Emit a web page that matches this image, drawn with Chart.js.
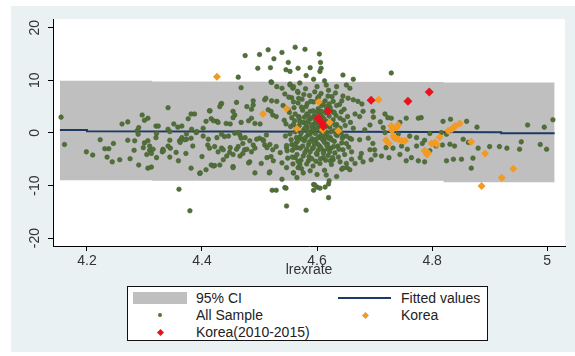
<!DOCTYPE html>
<html>
<head>
<meta charset="utf-8">
<script src="https://cdn.jsdelivr.net/npm/chart.js@4.4.1/dist/chart.umd.min.js"></script>
<style>
  body { margin: 0; background: #fff; }
  #wrap { position: relative; width: 575px; height: 356px; }
  #legend {
    position: absolute; left: 127px; top: 286px; width: 361px; height: 55px;
    background: #fff; border: 1px solid #111; box-sizing: border-box;
    font-family: "Liberation Sans", Arial, sans-serif; font-size: 14px; color: #222;
  }
  .item { position: absolute; white-space: nowrap; line-height: 16px; }
  .sw { position: absolute; }
</style>
</head>
<body>
<div id="wrap">
  <canvas id="chart" width="575" height="356"></canvas>
  <div id="legend"></div>
</div>
<script>
// tick labels
const xTicks = [4.2, 4.4, 4.6, 4.8, 5];
const yTicks = [-20, -10, 0, 10, 20];

// 95% CI band and fitted line (x, lower, upper / fitted)
const ciX     = [4.153, 4.313, 4.313, 4.82, 4.82, 5.013];
const ciLower = [-9.0, -9.0, -9.1, -9.1, -9.4, -9.4];
const ciUpper = [9.9, 9.9, 9.8, 9.7, 9.6, 9.6];
const fitX    = [4.153, 4.2, 4.2, 4.66, 4.92, 4.92, 5.013];
const fitY    = [0.55, 0.55, 0.3, 0.2, 0.15, -0.05, -0.05];

// All Sample (lrexrate, residual)
const allSample = [
  [4.155,3.0],[4.161,-2.2],[4.199,-3.6],[4.21,-4.2],[4.223,-1.3],[4.231,-3.0],[4.238,-3.0],[4.246,-2.0],
  [4.235,-4.6],[4.244,-5.5],[4.257,-5.1],[4.261,1.7],[4.271,2.1],[4.271,-1.4],[4.275,-4.9],[4.282,-3.3],
  [4.287,0.4],[4.29,1.0],[4.289,-0.25],[4.29,-6.1],[4.296,3.4],[4.3,2.4],[4.306,2.8],[4.3,-1.9],
  [4.306,-1.5],[4.309,-3.3],[4.315,-3.1],[4.309,-2.5],[4.306,-6.7],[4.312,-6.5],[4.32,-0.9],[4.32,1.3],
  [4.331,-3.6],[4.332,-3.1],[4.341,4.8],[4.341,0.7],[4.344,-1.4],[4.345,-2.9],[4.344,-4.6],[4.351,1.7],
  [4.355,-3.7],[4.358,1.1],[4.361,-1.5],[4.364,-1.2],[4.36,-10.7],[4.283,-1.5],[4.298,-2.8],[4.304,-4.1],
  [4.312,-3.9],[4.321,-4.7],[4.333,-3.4],[4.341,-2.5],[4.362,-1.8],[4.359,-5.3],[4.321,-0.1],[4.344,0.25],
  [4.324,1.3],[4.365,1.3],[4.365,-0.9],[4.373,-1.2],
  [4.475,14.7],[4.5,14.9],[4.515,15.8],[4.525,14.1],[4.497,12.3],[4.519,12.4],[4.463,10.6],[4.468,8.6],
  [4.52,9.7],[4.433,5.5],[4.46,5.8],[4.489,5.3],[4.376,2.7],[4.381,3.6],[4.387,3.6],[4.413,4.2],
  [4.416,2.7],[4.402,0.9],[4.407,2.2],[4.426,2.2],[4.442,1.8],[4.454,4.1],[4.457,3.4],[4.468,2.0],
  [4.486,2.8],[4.492,1.8],[4.509,6.3],[4.515,4.4],[4.52,4.1],[4.523,3.4],[4.529,3.1],[4.373,-0.2],
  [4.381,-1.0],[4.39,0.06],[4.37,-1.3],[4.384,-2.5],[4.372,-3.9],[4.381,-6.7],[4.396,-7.7],[4.4,-4.5],
  [4.407,-7.0],[4.41,-2.3],[4.413,-2.9],[4.422,-2.6],[4.416,-6.1],[4.422,-6.2],[4.428,-3.6],[4.434,-2.9],
  [4.437,-3.2],[4.437,-5.1],[4.439,-0.7],[4.448,-3.7],[4.454,-6.4],[4.457,-0.07],[4.466,-0.4],[4.468,-1.0],
  [4.471,-2.0],[4.463,-2.6],[4.474,-3.2],[4.471,-3.9],[4.483,-5.5],[4.489,-2.3],[4.492,-2.9],[4.486,-3.6],
  [4.492,-7.6],[4.503,-5.8],[4.5,-1.0],[4.506,-1.3],[4.509,-2.3],[4.512,-0.4],[4.518,-7.4],[4.523,-3.2],
  [4.52,-4.5],[4.529,-2.6],[4.522,-10.9],[4.529,-10.9],[4.379,-14.8],
  [4.382,0.7],[4.391,0.25],[4.42,2.3],[4.428,2.0],[4.449,1.7],[4.454,2.9],[4.481,2.3],[4.501,1.7],
  [4.402,-0.6],[4.411,-1.2],[4.426,-0.9],[4.434,-0.25],[4.446,-0.6],[4.463,0.06],[4.475,-0.9],[4.483,-1.5],
  [4.495,-1.2],[4.42,-6.3],[4.431,-6.1],[4.443,-4.4],[4.454,-4.1],[4.466,-4.4],[4.449,-2.8],[4.46,-3.1],
  [4.478,-3.1],[4.454,-6.6],[4.481,-5.7],[4.507,-1.5],[4.513,-2.8],[4.518,-2.2],[4.513,-4.7],[4.524,-5.3],
  [4.536,-3.75],[4.397,-7.6],[4.434,5.6],[4.414,4.2],[4.431,5.0],[4.478,5.0],[4.486,4.5],[4.489,6.1],
  [4.511,6.6],[4.521,6.1],[4.53,6.0],[4.521,9.6],[4.53,8.8],[4.539,8.5],
  [4.539,15.3],[4.562,16.3],[4.579,15.9],[4.604,15.0],[4.55,13.4],[4.567,12.3],[4.546,12.0],[4.553,11.7],
  [4.588,12.4],[4.606,13.4],[4.607,12.3],[4.605,11.7],[4.581,10.9],[4.645,11.0],[4.663,10.2],[4.594,10.2],
  [4.613,9.9],[4.616,9.1],[4.553,9.1],[4.558,8.5],[4.57,9.5],[4.634,8.8],[4.651,9.1],[4.657,8.5],
  [4.544,7.4],[4.556,6.7],[4.567,7.7],[4.553,9.3],[4.559,8.8],[4.729,11.4],
  [4.544,-10.4],[4.546,-10.5],[4.594,-10.9],[4.594,-9.8],[4.6,-10.3],[4.605,-10.5],[4.614,-10.3],[4.62,-9.7],
  [4.621,-9.1],[4.62,-12.3],[4.547,-13.9],[4.581,-14.7],[4.539,-8.8],[4.559,-7.6],[4.565,-8.5],[4.517,-7.6],
  [4.596,-9.9],[4.616,-8.0],[4.634,-8.3],[4.539,-5.7],[4.547,-6.6],[4.559,-7.6],[4.567,-6.6],[4.562,-4.7],
  [4.547,-2.8],[4.556,-2.2],[4.565,-2.8],[4.582,-3.1],[4.6,-4.1],[4.57,-6.0],[4.585,-5.3],[4.611,-4.7],
  [4.623,-5.3],[4.576,-7.6],[4.588,-7.2],[4.6,-7.9],[4.643,-6.9],[4.652,-6.6],[4.66,-5.0],[4.675,-4.7],
  [4.645,7.0],[4.663,6.3],[4.671,6.0],[4.68,4.1],[4.666,3.6],[4.697,4.1],[4.674,3.1],[4.692,1.5],
  [4.663,0.9],[4.683,0.6],[4.645,-0.7],[4.657,-1.0],[4.651,-2.0],[4.674,-1.3],[4.689,-1.0],[4.697,-2.0],
  [4.66,-3.6],[4.677,-3.9],[4.692,-3.2],[4.7,-3.2],[4.628,-5.1],[4.64,-5.5],[4.651,-5.8],[4.666,-5.8],
  [4.68,-5.5],[4.694,-5.1],[4.645,-6.7],[4.657,-7.0],[4.643,6.1],[4.654,6.6],[4.698,3.0],[4.678,5.5],
  [4.718,3.6],[4.723,2.9],[4.729,2.8],[4.755,2.8],[4.776,2.8],[4.781,2.9],[4.744,2.0],[4.819,2.2],
  [4.86,2.2],[4.832,2.6],[4.878,1.1],[4.715,1.0],[4.718,0.06],[4.732,0.5],[4.741,-0.25],[4.761,-0.6],
  [4.773,-0.9],[4.787,-1.4],[4.796,-0.1],[4.816,0.06],[4.825,-0.25],[4.72,-2.8],[4.732,-2.9],[4.747,-2.5],
  [4.757,-3.1],[4.773,-2.5],[4.783,-2.0],[4.807,-2.5],[4.818,-2.3],[4.831,-2.15],[4.839,-2.5],[4.854,-1.2],
  [4.863,-1.8],[4.871,-4.8],[4.88,-2.9],[4.744,-4.1],[4.755,-5.3],[4.764,-4.7],[4.776,-5.3],[4.796,-3.4],
  [4.825,-5.3],[4.851,-5.0],[4.868,-6.7],[4.725,-4.7],[4.712,-4.4],[4.701,-4.2],[4.787,-5.5],[4.837,-5.0],
  [4.71,2.1],
  [4.9,-2.6],[4.917,-2.6],[4.93,-2.9],[4.952,-3.1],[4.955,-1.7],[4.966,1.5],[4.988,-2.2],[4.999,-3.1],
  [4.995,1.1],[5.01,2.5],
  [4.541,5.2],[4.543,2.4],[4.545,-0.6],[4.547,-2.4],[4.549,-4.8],[4.551,6.8],[4.552,3.9],[4.554,1.2],
  [4.555,-1.3],[4.557,-3.3],[4.558,-5.9],[4.560,4.8],[4.561,2.3],[4.562,0.2],[4.563,-2.0],[4.565,-4.1],
  [4.566,7.9],[4.567,5.7],[4.568,3.1],[4.569,1.4],[4.570,-0.8],[4.571,-2.9],[4.572,-5.2],[4.573,-6.8],
  [4.574,6.4],[4.575,4.3],[4.576,2.0],[4.577,0.6],[4.578,-1.5],[4.579,-3.7],[4.580,8.4],[4.581,5.0],
  [4.582,3.6],[4.583,1.0],[4.584,-0.4],[4.585,-2.3],[4.586,-4.5],[4.587,7.1],[4.588,4.1],[4.589,2.7],
  [4.590,0.3],[4.591,-1.1],[4.592,-3.0],[4.593,-6.3],[4.594,5.9],[4.595,3.3],[4.596,1.8],[4.597,-0.1],
  [4.598,-1.9],[4.599,-3.9],[4.600,8.8],[4.601,6.6],[4.602,4.6],[4.603,1.5],[4.604,-0.7],[4.605,-2.6],
  [4.606,-4.9],[4.607,7.5],[4.608,5.2],[4.609,3.0],[4.610,0.8],[4.611,-1.4],[4.612,-3.4],[4.613,-7.1],
  [4.614,6.1],[4.615,3.8],[4.616,2.2],[4.617,-0.3],[4.618,-2.1],[4.619,-4.3],[4.620,8.1],[4.621,5.5],
  [4.622,1.1],[4.623,-0.9],[4.624,-2.9],[4.625,-6.0],[4.626,6.9],[4.627,4.0],[4.628,2.5],[4.629,0.4],
  [4.630,-1.6],[4.631,-3.8],[4.632,7.6],[4.633,3.3],[4.634,1.6],[4.635,-0.5],[4.636,-2.5],[4.637,-4.6],
  [4.639,5.4],[4.640,2.8],[4.642,0.0],[4.643,-1.9],[4.645,-3.2],[4.647,4.5],[4.649,1.4],[4.651,-0.6],
  [4.653,3.1],[4.655,-2.7],[4.658,2.0],[4.660,-1.2],
  [4.588,-0.2],[4.592,1.1],[4.596,-1.3],[4.598,2.4],[4.602,-2.2],[4.604,0.9],[4.606,3.5],[4.608,-0.5],
  [4.611,1.9],[4.613,-1.8],[4.615,0.2],[4.617,4.4],[4.619,-3.0],[4.594,-2.7],[4.584,2.2],[4.579,0.9],
  [4.574,-1.2],[4.569,2.9],[4.564,-0.9],[4.559,1.6],
  [4.546,1.7],[4.548,-3.4],[4.550,4.4],[4.553,-0.2],[4.556,2.9],[4.557,-4.6],[4.559,5.9],[4.561,-2.8],
  [4.562,3.6],[4.564,1.0],[4.566,-1.6],[4.567,-5.4],[4.568,6.6],[4.570,2.2],[4.572,-0.1],[4.573,4.9],
  [4.575,-2.5],[4.576,-4.4],[4.577,7.3],[4.578,3.0],[4.580,-0.9],[4.581,1.7],[4.582,-5.9],[4.583,5.6],
  [4.585,0.1],[4.586,3.1],[4.587,-1.7],[4.588,-3.6],[4.589,6.0],[4.590,1.6],[4.591,-4.9],[4.593,4.2],
  [4.594,0.6],[4.595,-1.9],[4.596,7.8],[4.597,2.9],[4.598,-5.4],[4.599,0.9],[4.600,4.0],[4.601,-1.0],
  [4.602,-3.3],[4.603,6.9],[4.604,2.3],[4.605,-5.8],[4.606,0.3],[4.607,-2.9],[4.608,4.1],[4.609,-1.1],
  [4.610,5.6],[4.611,-3.8],[4.612,2.7],[4.613,0.6],[4.614,-0.8],[4.615,-5.2],[4.616,5.0],[4.617,-2.4],
  [4.618,1.4],[4.619,7.0],[4.620,-1.0],[4.621,3.2],[4.622,-3.6],[4.623,4.8],[4.624,0.2],[4.625,-1.3],
  [4.626,2.0],[4.627,-4.7],[4.628,6.0],[4.629,-2.6],[4.630,3.9],[4.631,1.5],[4.633,-0.3],[4.634,5.2],
  [4.636,1.0],[4.638,-3.1],[4.640,0.9],[4.642,4.0],[4.644,-1.0],[4.646,2.4],[4.648,-4.1]
];

// Korea, all years
const korea = [
  [4.426,10.7],[4.506,3.6],[4.547,4.6],[4.603,5.9],[4.565,0.8],[4.622,2.0],[4.637,0.4],[4.61,0.6],
  [4.707,6.3],[4.729,1.3],[4.738,1.0],[4.741,1.5],[4.73,0.5],[4.72,-1.4],[4.725,-2.0],[4.735,-1.0],
  [4.741,-1.2],[4.747,-1.5],[4.733,-0.6],[4.753,-1.5],[4.787,-3.4],[4.793,-3.75],[4.791,-4.1],[4.799,-2.0],
  [4.805,-1.8],[4.808,-2.15],[4.813,-0.8],[4.828,0.4],[4.834,0.7],[4.837,1.0],[4.84,1.3],[4.848,1.8],
  [4.868,-1.7],[4.892,-3.9],[4.941,-6.8],[4.921,-8.5],[4.886,-10.1]
];

// Korea 2010-2015
const korea1015 = [
  [4.602,2.8],[4.608,2.0],[4.611,1.2],[4.619,4.1],[4.694,6.2],[4.758,6.0],[4.795,7.8]
];

const toXY = arr => arr.map(p => ({x: p[0], y: p[1]}));
const pairs = (xs, ys) => xs.map((x, i) => ({x: x, y: ys[i]}));

const FONT = "'Liberation Sans', Arial, sans-serif";

const bgPlugin = {
  id: 'bg',
  beforeDraw(chart) {
    const c = chart.ctx, a = chart.chartArea;
    c.save();
    c.fillStyle = '#ffffff';
    c.fillRect(0, 0, chart.width, chart.height);
    c.fillStyle = '#e9f1f3';
    c.fillRect(11, 6, chart.width - 11, chart.height - 10);
    c.fillStyle = '#ffffff';
    c.fillRect(a.left, a.top, a.right - a.left, a.bottom - a.top);
    c.restore();
  }
};

new Chart(document.getElementById('chart'), {
  type: 'scatter',
  data: {
    datasets: [
      { label: 'Korea(2010-2015)', data: toXY(korea1015), order: 1,
        pointStyle: 'rectRot', pointRadius: 4.5, backgroundColor: '#e8111d', borderColor: '#e8111d', borderWidth: 0 },
      { label: 'Korea', data: toXY(korea), order: 2,
        pointStyle: 'rectRot', pointRadius: 4, backgroundColor: '#f39a22', borderColor: '#f39a22', borderWidth: 0 },
      { label: 'All Sample', data: toXY(allSample), order: 3,
        pointStyle: 'circle', pointRadius: 2.3, backgroundColor: '#4f7232', borderColor: '#4a5d40', borderWidth: 0.6 },
      { label: 'Fitted values', data: pairs(fitX, fitY), order: 4, type: 'line', showLine: true,
        borderColor: '#1d3a64', borderWidth: 2, pointRadius: 0, fill: false, tension: 0 },
      { label: 'ci low', data: pairs(ciX, ciLower), order: 5, type: 'line', showLine: true,
        borderWidth: 0, borderColor: 'rgba(0,0,0,0)', pointRadius: 0, fill: false },
      { label: '95% CI', data: pairs(ciX, ciUpper), order: 5, type: 'line', showLine: true,
        borderWidth: 0, borderColor: 'rgba(0,0,0,0)', pointRadius: 0,
        fill: { target: 4 }, backgroundColor: '#bfbfbf' }
    ]
  },
  options: {
    responsive: false,
    devicePixelRatio: 1,
    animation: false,
    layout: { padding: { left: 0, right: 10, top: 19, bottom: 77 } },
    plugins: { legend: { display: false }, tooltip: { enabled: false } },
    scales: {
      x: {
        type: 'linear', min: 4.141, max: 5.031,
        afterBuildTicks: s => { s.ticks = xTicks.map(v => ({value: v})); },
        afterFit: s => { s.height = 33; },
        grid: { drawOnChartArea: false, drawTicks: true, tickLength: 5, tickColor: '#000' },
        border: { display: true, color: '#000', width: 1 },
        ticks: { font: { family: FONT, size: 14 }, color: '#333', padding: 2, maxRotation: 0,
                 callback: v => String(v) },
        title: { display: true, text: 'lrexrate', font: { family: FONT, size: 14 }, color: '#333',
                 padding: { top: 0, bottom: 0 } }
      },
      y: {
        type: 'linear', min: -21.5, max: 21.66,
        afterBuildTicks: s => { s.ticks = yTicks.map(v => ({value: v})); },
        afterFit: s => { s.width = 53; },
        grid: { drawOnChartArea: false, drawTicks: true, tickLength: 5, tickColor: '#000' },
        border: { display: true, color: '#000', width: 1 },
        ticks: { font: { family: FONT, size: 14 }, color: '#333', padding: 3,
                 minRotation: 90, maxRotation: 90, crossAlign: 'center',
                 callback: v => String(v) }
      }
    }
  },
  plugins: [bgPlugin]
});

// legend (Stata style, two columns)
const legend = document.getElementById('legend');
const legendItems = [
  { text: '95% CI',           col: 0, row: 0, kind: 'band' },
  { text: 'Fitted values',    col: 1, row: 0, kind: 'line' },
  { text: 'All Sample',       col: 0, row: 1, kind: 'dot' },
  { text: 'Korea',            col: 1, row: 1, kind: 'diamond', color: '#f39a22' },
  { text: 'Korea(2010-2015)', col: 0, row: 2, kind: 'diamond', color: '#e8111d' }
];
legendItems.forEach(it => {
  const sx = it.col ? 210 : 5;
  const cy = 11 + it.row * 17;
  const sw = document.createElement('div');
  sw.className = 'sw';
  if (it.kind === 'band') {
    Object.assign(sw.style, { left: sx + 'px', top: (cy - 6) + 'px', width: '54px', height: '12px', background: '#bfbfbf' });
  } else if (it.kind === 'line') {
    Object.assign(sw.style, { left: sx + 'px', top: (cy - 1) + 'px', width: '53px', height: '2px', background: '#1d3a64' });
  } else if (it.kind === 'dot') {
    Object.assign(sw.style, { left: (sx + 25) + 'px', top: (cy - 2) + 'px', width: '4px', height: '4px',
      borderRadius: '50%', background: '#4f7232' });
  } else {
    Object.assign(sw.style, { left: (sx + 25) + 'px', top: (cy - 2.5) + 'px', width: '5px', height: '5px',
      transform: 'rotate(45deg)', background: it.color });
  }
  legend.appendChild(sw);
  const t = document.createElement('div');
  t.className = 'item';
  t.textContent = it.text;
  t.style.left = (sx + 63) + 'px';
  t.style.top = (cy - 8) + 'px';
  legend.appendChild(t);
});
</script>
</body>
</html>
